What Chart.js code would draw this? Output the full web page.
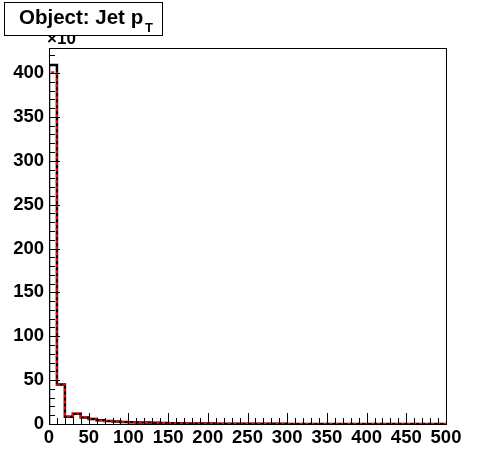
<!DOCTYPE html>
<html>
<head>
<meta charset="utf-8">
<script src="https://cdn.jsdelivr.net/npm/chart.js@4"></script>
<style>
  html, body { margin: 0; padding: 0; background: #fff; }
  #wrap { width: 496px; height: 472px; position: relative; }
</style>
</head>
<body>
<div id="wrap"><canvas id="c"></canvas></div>
<script>
// bornes basses des bins (GeV), largeur 10
const ptBins = [0, 10, 20, 30, 40, 50, 60, 70, 80, 90,
    100, 110, 120, 130, 140, 150, 160, 170, 180, 190,
    200, 210, 220, 230, 240, 250, 260, 270, 280, 290,
    300, 310, 320, 330, 340, 350, 360, 370, 380, 390,
    400, 410, 420, 430, 440, 450, 460, 470, 480, 490];
const ptMax = 500;

// histogramme noir (x10^3)
const jetPtBlack = [409, 45, 8.4, 11.8, 7.4, 5.8, 4.3, 3.5, 2.8, 2.4,
    2.0, 1.8, 1.6, 1.3, 1.0, 0.9, 0.8, 0.7, 0.6, 0.5,
    0.45, 0.4, 0.35, 0.3, 0.28, 0.25, 0.22, 0.2, 0.18, 0.16,
    0.14, 0.13, 0.12, 0.11, 0.1, 0.09, 0.08, 0.07, 0.07, 0.06,
    0.06, 0.05, 0.05, 0.04, 0.04, 0.04, 0.03, 0.03, 0.03, 0.03];

// histogramme rouge pointillé
const jetPtRed = [401, 45, 8.6, 12.0, 7.5, 5.9, 4.4, 3.5, 2.9, 2.4,
    2.1, 1.8, 1.6, 1.3, 1.0, 0.9, 0.8, 0.7, 0.6, 0.5,
    0.45, 0.4, 0.35, 0.3, 0.28, 0.25, 0.22, 0.2, 0.18, 0.16,
    0.14, 0.13, 0.12, 0.11, 0.1, 0.09, 0.08, 0.07, 0.07, 0.06,
    0.06, 0.05, 0.05, 0.04, 0.04, 0.04, 0.03, 0.03, 0.03, 0.03];

const yMax = 428.5;
const yMajor = [0, 50, 100, 150, 200, 250, 300, 350, 400];

// contour de l'histo : on part de 0, puis chaque bin, puis le bord droit
function histoPoints(vals) {
    const pts = [{ x: ptBins[0], y: 0 }];
    ptBins.forEach((b, i) => pts.push({ x: b, y: vals[i] }));
    pts.push({ x: ptMax, y: vals[vals.length - 1] });
    return pts;
}

const FONT = "'Liberation Sans', Arial, Helvetica, sans-serif";

// ticks vers l'intérieur + cadre + titre façon ROOT
const rootStyle = {
    id: "rootStyle",
    afterDatasetsDraw(chart) {
        const ctx = chart.ctx;
        const a = chart.chartArea;
        const xs = chart.scales.x, ys = chart.scales.y;
        ctx.save();
        ctx.strokeStyle = "#000";
        ctx.lineWidth = 1;
        ctx.beginPath();
        for (let v = 0; v <= ptMax; v += 10) {
            const px = Math.round(xs.getPixelForValue(v)) + 0.5;
            const len = (v % 50 === 0) ? 11 : 6;
            ctx.moveTo(px, a.bottom);
            ctx.lineTo(px, a.bottom - len);
        }
        for (let v = 0; v <= yMax; v += 10) {
            const py = Math.round(ys.getPixelForValue(v)) + 0.5;
            const len = (v % 50 === 0) ? 11 : 6;
            ctx.moveTo(a.left, py);
            ctx.lineTo(a.left + len, py);
        }
        ctx.stroke();
        // cadre
        ctx.strokeRect(Math.round(a.left) + 0.5, Math.round(a.top) + 0.5,
            Math.round(a.right - a.left), Math.round(a.bottom - a.top));

        // exposant de l'axe y
        ctx.fillStyle = "#000";
        ctx.font = "bold 17px " + FONT;
        ctx.textBaseline = "alphabetic";
        ctx.fillText("\u00d710", 47, 44);

        // boîte du titre
        ctx.fillStyle = "#fff";
        ctx.fillRect(4, 2, 158, 33);
        ctx.strokeRect(4.5, 2.5, 158, 33);
        ctx.fillStyle = "#000";
        ctx.font = "bold 20.5px " + FONT;
        ctx.fillText("Object: Jet p", 19, 24);
        ctx.font = "bold 13px " + FONT;
        ctx.fillText("T", 145, 32);
        ctx.restore();
    }
};

new Chart(document.getElementById("c"), {
    type: "line",
    data: {
        datasets: [
            {
                label: "noir",
                data: histoPoints(jetPtBlack),
                borderColor: "#000",
                borderWidth: 2.5,
                stepped: "before",
                pointRadius: 0,
                fill: false,
                order: 2,
            },
            {
                label: "rouge",
                data: histoPoints(jetPtRed),
                borderColor: "#ff0000",
                borderWidth: 2,
                borderDash: [3, 3],
                stepped: "before",
                pointRadius: 0,
                fill: false,
                order: 1,
            }
        ]
    },
    options: {
        responsive: true,
        maintainAspectRatio: false,
        animation: false,
        events: [],
        layout: { padding: { top: 48, right: 50, left: 0, bottom: 0 } },
        plugins: { legend: { display: false }, tooltip: { enabled: false } },
        scales: {
            x: {
                type: "linear",
                min: 0,
                max: ptMax,
                grid: { display: false, drawTicks: false },
                border: { display: false },
                afterFit: s => { s.height = 48; },
                ticks: {
                    stepSize: 50,
                    autoSkip: false,
                    maxRotation: 0,
                    padding: 3,
                    color: "#000",
                    font: { family: FONT, size: 18.5, weight: "bold" }
                }
            },
            y: {
                min: 0,
                max: yMax,
                grid: { display: false, drawTicks: false },
                border: { display: false },
                afterFit: s => { s.width = 49; },
                afterBuildTicks: s => { s.ticks = yMajor.map(v => ({ value: v })); },
                ticks: {
                    padding: 5,
                    color: "#000",
                    font: { family: FONT, size: 18.5, weight: "bold" }
                }
            }
        }
    },
    plugins: [rootStyle]
});
</script>
</body>
</html>
